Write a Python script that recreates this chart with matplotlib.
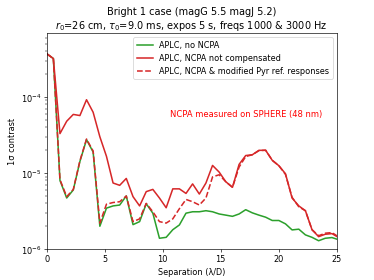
import numpy as np
import matplotlib
matplotlib.use("Agg")
import matplotlib.pyplot as plt

# separation grid (lambda/D)
sep = [0.00, 0.57, 1.14, 1.72, 2.29, 2.86, 3.43, 4.00, 4.58, 5.15,
       5.72, 6.29, 6.86, 7.44, 8.01, 8.58, 9.15, 9.72, 10.30, 10.87,
       11.44, 12.01, 12.58, 13.16, 13.73, 14.30, 14.87, 15.44, 16.02, 16.59,
       17.16, 17.73, 18.30, 18.88, 19.45, 20.02, 20.59, 21.16, 21.74, 22.31,
       22.88, 23.45, 24.02, 24.60, 25.17]

# APLC, no NCPA
no_ncpa = [3.7e-4, 3.2e-4, 8.0e-6, 4.7e-6, 6.0e-6, 1.42e-5, 2.75e-5, 1.89e-5, 2.0e-6, 3.46e-6,
           3.7e-6, 3.8e-6, 5.0e-6, 2.1e-6, 2.3e-6, 3.95e-6, 2.97e-6, 1.39e-6, 1.43e-6, 1.8e-6,
           2.08e-6, 2.97e-6, 3.1e-6, 3.1e-6, 3.2e-6, 3.1e-6, 2.9e-6, 2.8e-6, 2.7e-6, 2.9e-6,
           3.3e-6, 3.0e-6, 2.8e-6, 2.63e-6, 2.38e-6, 2.38e-6, 2.15e-6, 1.79e-6, 1.83e-6, 1.54e-6,
           1.43e-6, 1.29e-6, 1.39e-6, 1.42e-6, 1.33e-6]

# APLC, NCPA not compensated
ncpa = [3.7e-4, 3.2e-4, 3.3e-5, 4.8e-5, 5.9e-5, 5.7e-5, 9.2e-5, 6.3e-5, 3.0e-5, 1.66e-5,
        7.4e-6, 6.9e-6, 8.5e-6, 4.9e-6, 3.7e-6, 5.7e-6, 6.1e-6, 4.7e-6, 3.5e-6, 6.2e-6,
        6.2e-6, 5.4e-6, 7.2e-6, 5.3e-6, 7.4e-6, 1.26e-5, 1.03e-5, 7.7e-6, 6.5e-6, 1.3e-5,
        1.7e-5, 1.74e-5, 1.99e-5, 1.99e-5, 1.47e-5, 1.25e-5, 9.8e-6, 4.7e-6, 3.7e-6, 3.2e-6,
        1.8e-6, 1.46e-6, 1.57e-6, 1.6e-6, 1.42e-6]

# APLC, NCPA & modified Pyr ref. responses
ncpa_mod = [3.7e-4, 3.2e-4, 8.2e-6, 4.9e-6, 6.1e-6, 1.45e-5, 2.8e-5, 1.95e-5, 2.2e-6, 3.9e-6,
            4.1e-6, 4.2e-6, 5.0e-6, 2.3e-6, 2.5e-6, 4.0e-6, 3.1e-6, 2.3e-6, 2.2e-6, 2.5e-6,
            3.4e-6, 4.5e-6, 4.2e-6, 3.8e-6, 4.7e-6, 8.9e-6, 9.5e-6, 7.7e-6, 6.5e-6, 1.2e-5,
            1.65e-5, 1.74e-5, 1.97e-5, 2.0e-5, 1.47e-5, 1.25e-5, 9.6e-6, 4.8e-6, 3.6e-6, 3.2e-6,
            1.8e-6, 1.5e-6, 1.62e-6, 1.65e-6, 1.45e-6]

fig, ax = plt.subplots(figsize=(6.4, 4.8), dpi=374 / 6.4)
ax.plot(sep, no_ncpa, color="tab:green", lw=1.9, label="APLC, no NCPA")
ax.plot(sep, ncpa, color="tab:red", lw=1.9, label="APLC, NCPA not compensated")
ax.plot(sep, ncpa_mod, color="tab:red", lw=1.9, ls="--", label="APLC, NCPA & modified Pyr ref. responses")
ax.set_yscale("log")
ax.set_xlim(0, 25)
ax.set_ylim(1e-6, 6.9e-4)
ax.set_xlabel("Separation (λ/D)")
ax.set_ylabel("1σ contrast")
ax.set_title("Bright 1 case (magG 5.5 magJ 5.2)\n"
             r"$r_0$=26 cm, $\tau_0$=9.0 ms, expos 5 s, freqs 1000 & 3000 Hz")
ax.text(10.6, 6e-5, "NCPA measured on SPHERE (48 nm)", color="red", va="center", fontsize=10.3)
ax.legend(loc="upper right")
fig.savefig("out.png", dpi=374 / 6.4)
